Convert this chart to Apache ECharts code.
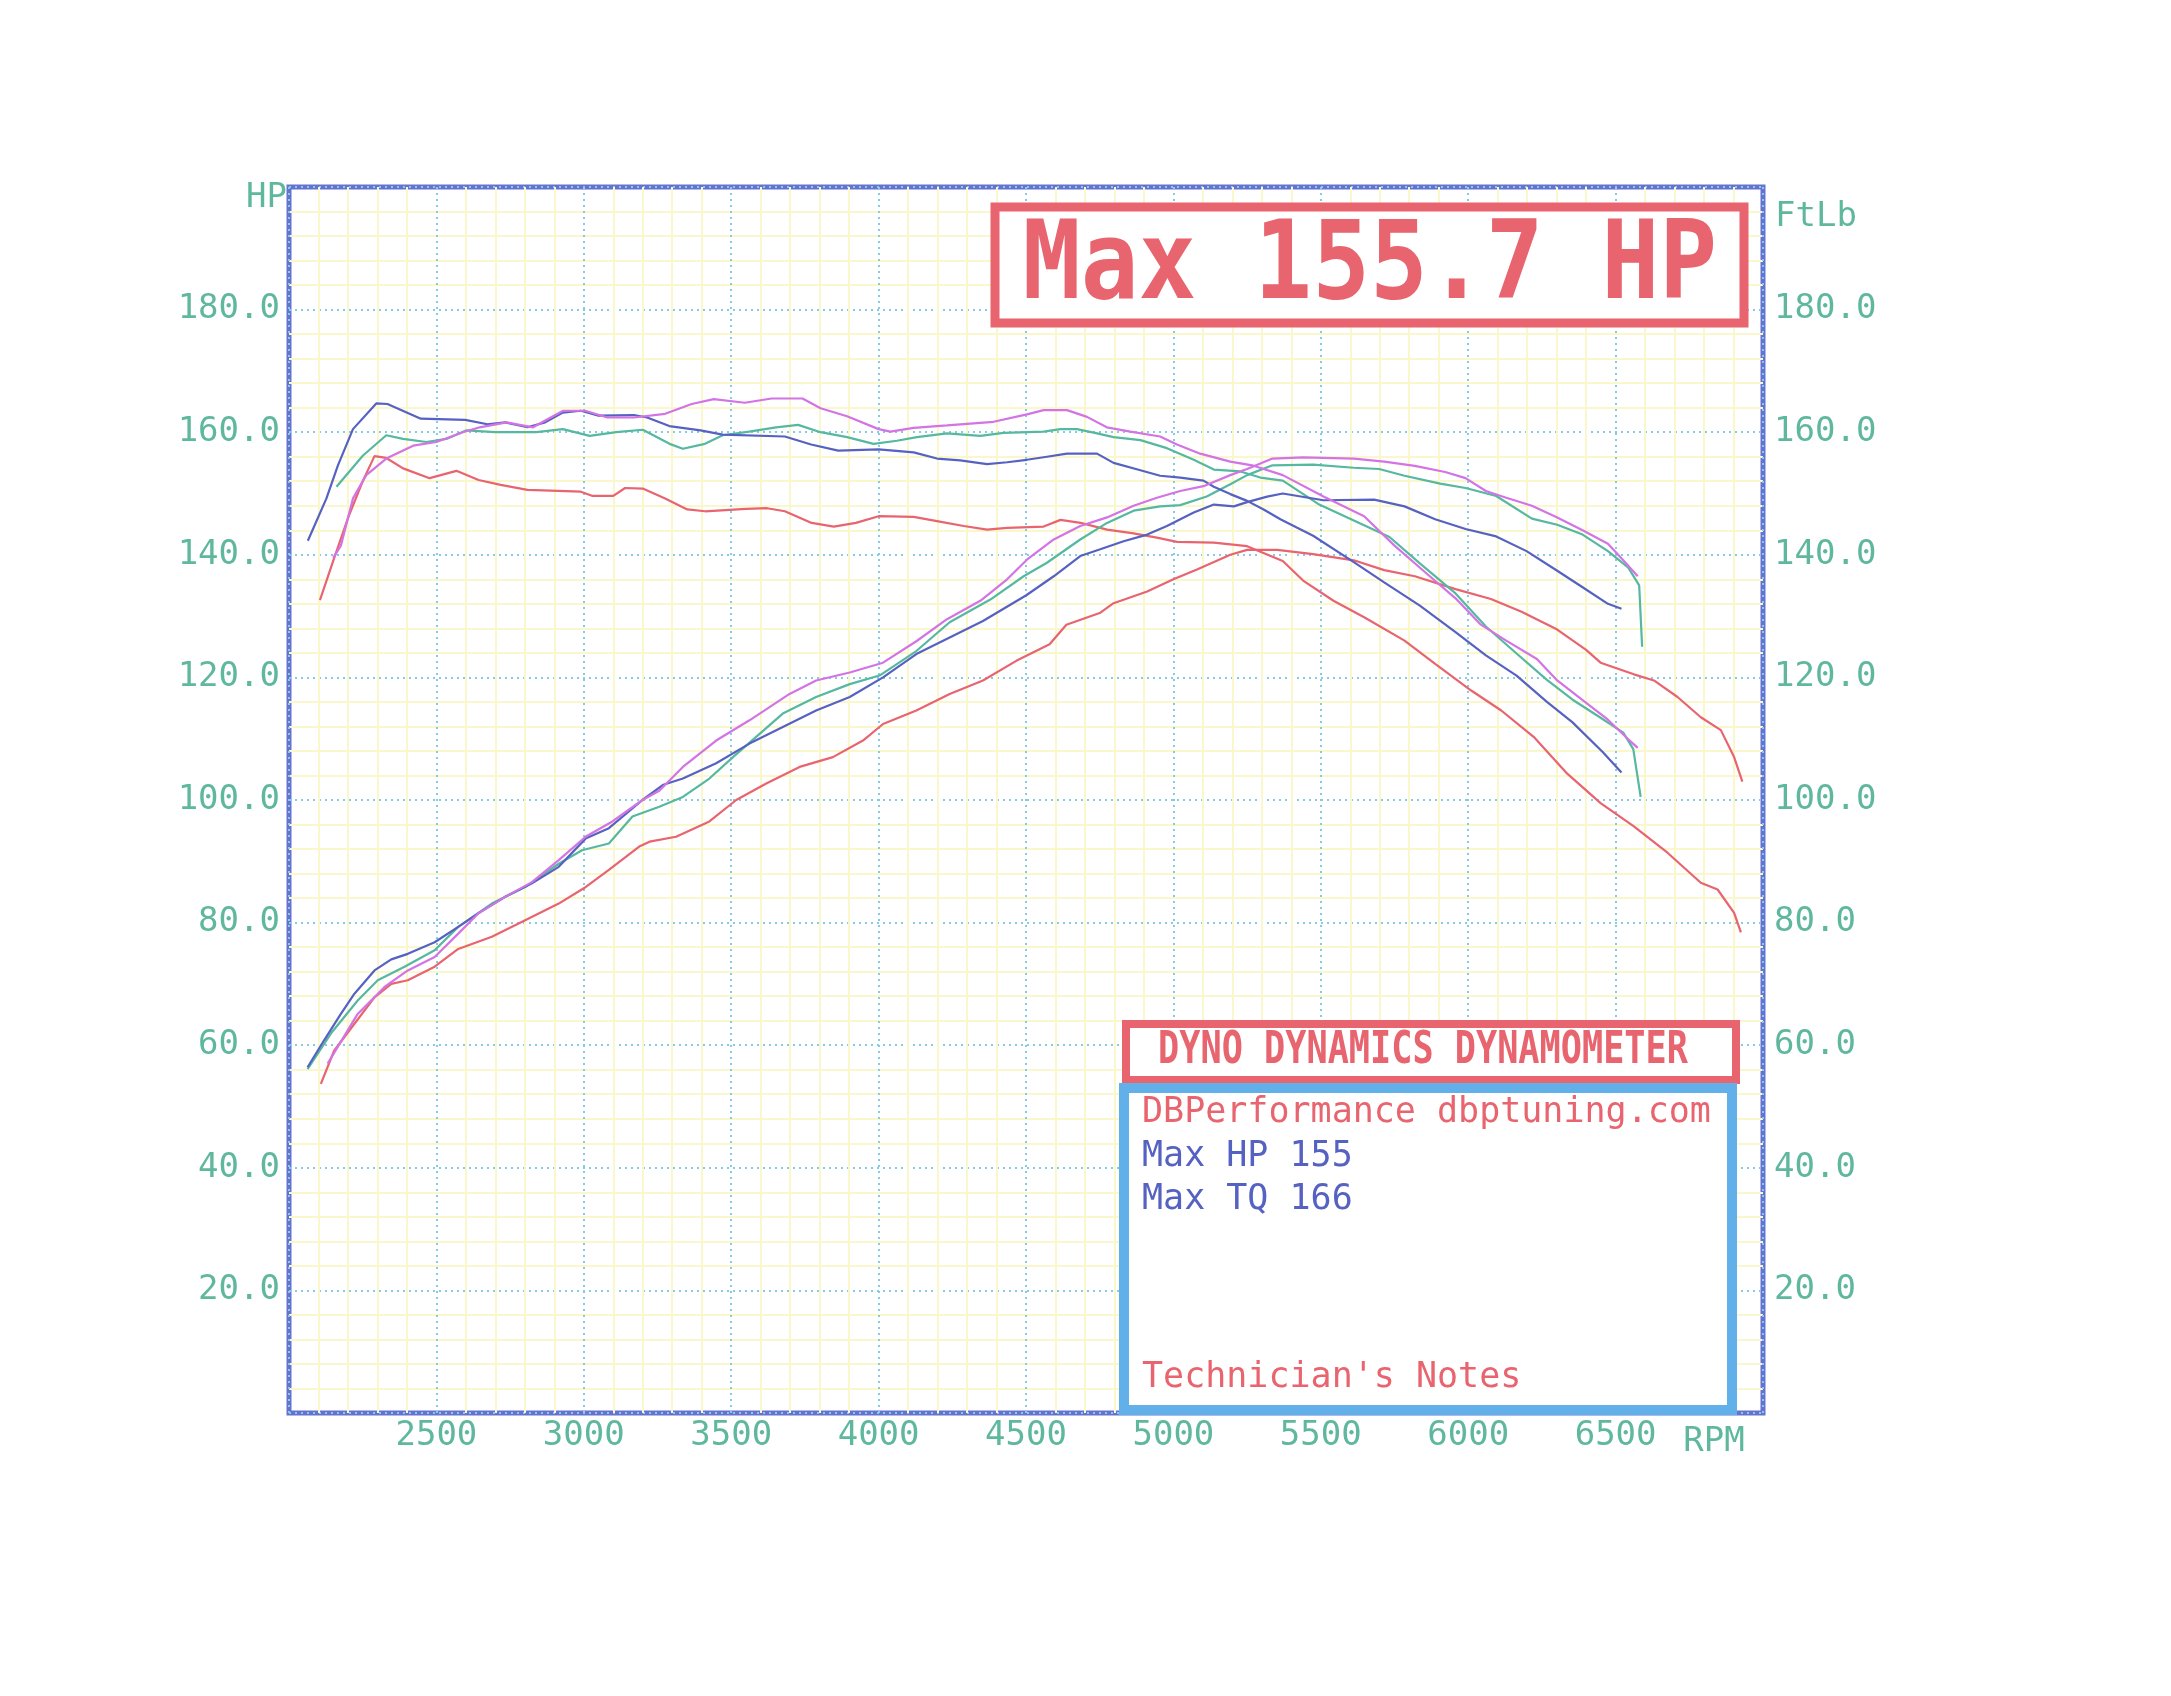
<!DOCTYPE html>
<html>
<head>
<meta charset="utf-8">
<script src="https://cdn.jsdelivr.net/npm/echarts@6/dist/echarts.min.js"></script>
<style>
html,body{margin:0;padding:0;background:#fff;}
#chart{width:2171px;height:1696px;}
</style>
</head>
<body>
<div id="chart"></div>
<script>
// ---- tick labels ----
const xTicks = [2500, 3000, 3500, 4000, 4500, 5000, 5500, 6000, 6500];
const yTicks = [20, 40, 60, 80, 100, 120, 140, 160, 180];

// ---- torque curves [rpm, ftlb] ----
const tqRed = [[2105,132.6],[2150,139],[2200,146],[2250,152],[2290,156.1],[2330,155.8],[2387,154.1],[2477,152.5],[2568,153.7],[2643,152.2],[2718,151.4],[2809,150.6],[2990,150.3],[3030,149.6],[3100,149.6],[3140,150.9],[3200,150.8],[3276,149.2],[3351,147.4],[3411,147.1],[3550,147.5],[3622,147.6],[3682,147.1],[3773,145.2],[3848,144.6],[3923,145.2],[4000,146.3],[4119,146.2],[4198,145.5],[4289,144.7],[4368,144.1],[4436,144.4],[4560,144.6],[4617,145.7],[4685,145.2],[4775,144.1],[4865,143.5],[4944,142.8],[5012,142.1],[5137,142],[5250,141.4],[5371,139],[5440,135.8],[5543,132.5],[5647,129.8],[5784,126],[5888,122.2],[6009,117.9],[6112,114.6],[6222,110.3],[6336,104.3],[6449,99.5],[6562,95.7],[6676,91.4],[6789,86.5],[6846,85.4],[6902,81.6],[6925,78.4]];
const tqMagenta = [[2150,139.5],[2176,141.5],[2217,149.2],[2262,153],[2330,155.7],[2421,157.8],[2500,158.4],[2590,160],[2647,160.8],[2738,161.6],[2828,160.8],[2869,161.9],[2930,163.5],[3005,163.5],[3080,162.4],[3170,162.4],[3276,163],[3366,164.6],[3441,165.4],[3546,164.8],[3637,165.5],[3742,165.5],[3803,163.9],[3893,162.6],[4000,160.5],[4040,160.1],[4119,160.7],[4232,161.1],[4390,161.7],[4503,162.9],[4560,163.6],[4639,163.6],[4707,162.5],[4774,160.8],[4854,160.1],[4955,159.3],[5012,158],[5091,156.5],[5193,155.2],[5267,154.6],[5371,153],[5509,149.5],[5647,146.3],[5750,141.5],[5853,137.2],[5957,132.9],[6043,128.6],[6129,126],[6233,123],[6302,119.5],[6388,116.3],[6474,113.1],[6543,109.9],[6575,108.5]];
const tqTeal = [[2161,151.1],[2251,156.2],[2330,159.5],[2387,158.9],[2466,158.4],[2534,158.9],[2602,160.3],[2700,160],[2839,160],[2929,160.5],[3020,159.4],[3110,160],[3200,160.4],[3291,158.1],[3336,157.3],[3411,158.1],[3471,159.5],[3561,160.1],[3652,160.8],[3727,161.2],[3803,160],[3893,159.2],[3983,158.1],[4062,158.6],[4130,159.2],[4232,159.8],[4345,159.4],[4424,159.9],[4560,160.1],[4617,160.5],[4673,160.5],[4741,159.8],[4797,159.2],[4888,158.7],[4978,157.4],[5069,155.5],[5137,153.9],[5227,153.6],[5295,152.6],[5371,152.1],[5491,148.3],[5612,145.6],[5733,142.9],[5836,138.6],[5957,133.7],[6060,128.3],[6164,123.9],[6267,119.6],[6353,116.4],[6440,113.7],[6526,111],[6560,108.3],[6585,100.5]];
const tqBlue = [[2064,142.3],[2127,149.2],[2166,154.6],[2217,160.5],[2296,164.7],[2334,164.6],[2447,162.2],[2598,162],[2673,161.3],[2733,161.6],[2809,160.8],[2869,161.6],[2929,163.2],[2990,163.5],[3050,162.7],[3170,162.8],[3215,162.4],[3290,161],[3396,160.3],[3471,159.6],[3682,159.3],[3771,158],[3863,157],[4000,157.2],[4119,156.7],[4198,155.7],[4277,155.4],[4368,154.8],[4436,155.1],[4503,155.5],[4571,156],[4639,156.5],[4741,156.5],[4797,155],[4888,153.8],[4955,152.9],[5023,152.6],[5102,152.1],[5137,151.1],[5193,149.9],[5250,148.8],[5306,147.4],[5363,145.8],[5420,144.4],[5474,143.1],[5612,138.8],[5715,135.5],[5836,131.7],[5957,127.4],[6060,123.6],[6164,120.3],[6267,116],[6353,112.7],[6457,107.8],[6520,104.5]];

// ---- power curves [rpm, hp] ----
const hpRed = [[2108,53.7],[2153,59.1],[2222,63.5],[2290,67.8],[2347,70],[2403,70.6],[2494,72.8],[2574,75.7],[2688,77.7],[2801,80.4],[2915,83.1],[3000,85.6],[3085,88.6],[3188,92.4],[3223,93.2],[3313,94],[3426,96.5],[3517,100],[3619,102.7],[3732,105.4],[3845,107],[3947,109.7],[4015,112.4],[4128,114.6],[4241,117.3],[4354,119.5],[4467,122.7],[4580,125.4],[4637,128.6],[4750,130.5],[4797,132.1],[4911,134],[5000,136],[5080,137.6],[5193,140],[5250,140.8],[5352,140.8],[5474,140.1],[5612,139.1],[5715,137.5],[5819,136.5],[5957,134.4],[6077,132.8],[6181,130.7],[6302,127.8],[6400,124.5],[6449,122.4],[6562,120.5],[6630,119.5],[6710,116.8],[6789,113.5],[6857,111.4],[6902,107],[6930,103]];
const hpMagenta = [[2131,57],[2233,65.1],[2324,69.5],[2403,72.2],[2494,74.4],[2574,78.2],[2642,81.5],[2733,84.2],[2824,86.6],[2915,90.2],[3006,94],[3097,96.5],[3199,100],[3256,101.5],[3336,105.4],[3449,109.7],[3562,113],[3698,117.3],[3788,119.5],[3902,120.8],[4015,122.4],[4128,125.9],[4232,129.5],[4345,132.5],[4436,136],[4503,139.2],[4594,142.5],[4684,144.7],[4775,146.1],[4865,148],[4944,149.3],[5023,150.4],[5102,151.2],[5193,153],[5250,154],[5336,155.7],[5440,155.9],[5612,155.7],[5715,155.2],[5819,154.5],[5922,153.5],[5991,152.5],[6060,150.4],[6129,149.3],[6216,148],[6302,146.1],[6388,144],[6474,141.8],[6526,139.1],[6575,136.5]];
const hpTeal = [[2063,56.1],[2142,61.9],[2233,67.3],[2301,70.6],[2392,72.8],[2494,75.5],[2574,79.3],[2688,83.1],[2801,85.8],[2915,89.6],[2994,91.8],[3085,92.9],[3165,97.3],[3256,98.9],[3336,100.5],[3426,103.5],[3506,107],[3675,114.1],[3788,116.8],[3902,118.9],[4003,120.3],[4128,124.3],[4241,129],[4379,132.7],[4492,136.5],[4571,138.7],[4684,142.5],[4775,145.2],[4865,147.2],[4955,147.9],[5023,148.1],[5113,149.5],[5193,151.5],[5250,153],[5336,154.6],[5474,154.7],[5612,154.2],[5698,154],[5784,152.9],[5905,151.6],[5991,150.9],[6095,149.6],[6216,145.9],[6302,144.9],[6388,143.3],[6474,140.6],[6543,137.9],[6580,135],[6590,125]];
const hpBlue = [[2063,56.4],[2119,60.8],[2176,65.1],[2222,68.4],[2290,72.2],[2347,74],[2403,74.9],[2494,76.8],[2574,79.3],[2642,81.5],[2733,84.2],[2824,86.4],[2915,89.1],[3006,93.7],[3085,95.4],[3199,100],[3270,102.5],[3336,103.5],[3449,106],[3562,109.2],[3675,111.9],[3788,114.6],[3902,116.8],[4015,120],[4128,123.8],[4241,126.5],[4354,129.2],[4501,133.4],[4594,136.5],[4684,139.8],[4752,140.9],[4831,142.2],[4911,143.3],[4978,144.7],[5069,146.9],[5137,148.2],[5205,147.9],[5250,148.6],[5318,149.5],[5371,150],[5509,148.9],[5681,149],[5784,147.9],[5888,145.8],[5991,144.2],[6095,143],[6198,140.6],[6302,137.4],[6388,134.7],[6474,132],[6520,131.2]];

// ---- annotation texts ----
const titleText = 'Max 155.7 HP';
const dynoText = 'DYNO DYNAMICS DYNAMOMETER';
const infoLines = ['DBPerformance dbptuning.com', 'Max HP 155', 'Max TQ 166'];
const notesText = "Technician's Notes";

const RED = '#e8646e', MAG = '#d274e4', TEAL = '#56b8a0', BLUE = '#5662c2';
const LABEL = '#5fb89e';
const MONO = '"DejaVu Sans Mono", "Liberation Mono", monospace';

const runs = [
  {hp: hpRed, tq: tqRed, color: RED},
  {hp: hpTeal, tq: tqTeal, color: TEAL},
  {hp: hpBlue, tq: tqBlue, color: BLUE},
  {hp: hpMagenta, tq: tqMagenta, color: MAG}
];

const series = [];
runs.forEach(r => {
  series.push({type:'line', data:r.hp, yAxisIndex:0, showSymbol:false, symbol:'none',
    lineStyle:{color:r.color, width:2.2}, z:3});
  series.push({type:'line', data:r.tq, yAxisIndex:1, showSymbol:false, symbol:'none',
    lineStyle:{color:r.color, width:2.2}, z:3});
});

const gridL = 289, gridT = 187, gridW = 1474, gridH = 1226;

const yAxisBase = {
  type:'value', min:0, max:200, interval:20,
  axisLine:{show:false}, axisTick:{show:false},
  axisLabel:{color:LABEL, fontFamily:MONO, fontSize:34, margin:9,
    formatter: v => yTicks.includes(v) ? v.toFixed(1) : ''},
  minorTick:{show:false, splitNumber:5}
};

const MINOR = {color:'#faf7cc', width:2};
const MAJOR = {color:'#86cae4', width:2, type:[2,4]};

const option = {
  animation:false,
  backgroundColor:'#fff',
  grid:{left:gridL, top:gridT, width:gridW, height:gridH, show:true,
    borderColor:'#6672d0', borderWidth:5, backgroundColor:'#fff'},
  xAxis:{type:'value', min:2000, max:7000, interval:500,
    axisLine:{show:false}, axisTick:{show:false},
    axisLabel:{color:LABEL, fontFamily:MONO, fontSize:34, margin:6,
      formatter: v => xTicks.includes(v) ? String(v) : ''},
    splitLine:{show:true, lineStyle:MAJOR},
    minorTick:{show:false, splitNumber:5},
    minorSplitLine:{show:true, lineStyle:MINOR}
  },
  yAxis:[
    Object.assign({}, yAxisBase, {position:'left',
      splitLine:{show:true, lineStyle:MAJOR},
      minorSplitLine:{show:true, lineStyle:MINOR}}),
    Object.assign({}, yAxisBase, {position:'right',
      axisLabel:Object.assign({}, yAxisBase.axisLabel, {margin:11}),
      splitLine:{show:false}, minorSplitLine:{show:false}})
  ],
  series: series,
  graphic:[
    {type:'text', z:100, x:287, y:198, style:{text:'HP', fill:LABEL, font:'34px '+MONO, align:'right', verticalAlign:'middle'}},
    {type:'text', z:100, x:1775, y:217, style:{text:'FtLb', fill:LABEL, font:'34px '+MONO, align:'left', verticalAlign:'middle'}},
    {type:'text', z:100, x:1714, y:1442, style:{text:'RPM', fill:LABEL, font:'34px '+MONO, align:'center', verticalAlign:'middle'}},
    // big max box
    {type:'rect', z:100, shape:{x:995, y:207, width:749, height:116},
      style:{fill:'#fff', stroke:RED, lineWidth:9}},
    {type:'text', z:101, x:1370, y:270, scaleX:0.89, scaleY:1,
      style:{text:titleText, fill:RED, font:'bold 108px '+MONO, align:'center', verticalAlign:'middle'}},
    // dyno box
    {type:'rect', z:100, shape:{x:1126, y:1024, width:610, height:56},
      style:{fill:'#fff', stroke:RED, lineWidth:8}},
    {type:'text', z:101, x:1423, y:1052, scaleX:0.8, scaleY:1,
      style:{text:dynoText, fill:RED, font:'bold 44px '+MONO, align:'center', verticalAlign:'middle'}},
    // info box
    {type:'rect', z:100, shape:{x:1124, y:1088, width:608, height:322},
      style:{fill:'#fff', stroke:'#62b0ea', lineWidth:10}},
    {type:'text', z:101, x:1142, y:1113, style:{text:infoLines[0], fill:RED, font:'35px '+MONO, align:'left', verticalAlign:'middle'}},
    {type:'text', z:101, x:1142, y:1157, style:{text:infoLines[1], fill:BLUE, font:'35px '+MONO, align:'left', verticalAlign:'middle'}},
    {type:'text', z:101, x:1142, y:1200, style:{text:infoLines[2], fill:BLUE, font:'35px '+MONO, align:'left', verticalAlign:'middle'}},
    {type:'text', z:101, x:1142, y:1378, style:{text:notesText, fill:RED, font:'35px '+MONO, align:'left', verticalAlign:'middle'}}
  ]
};

const chart = echarts.init(document.getElementById('chart'), null, {renderer:'canvas'});
chart.setOption(option);
</script>
</body>
</html>
